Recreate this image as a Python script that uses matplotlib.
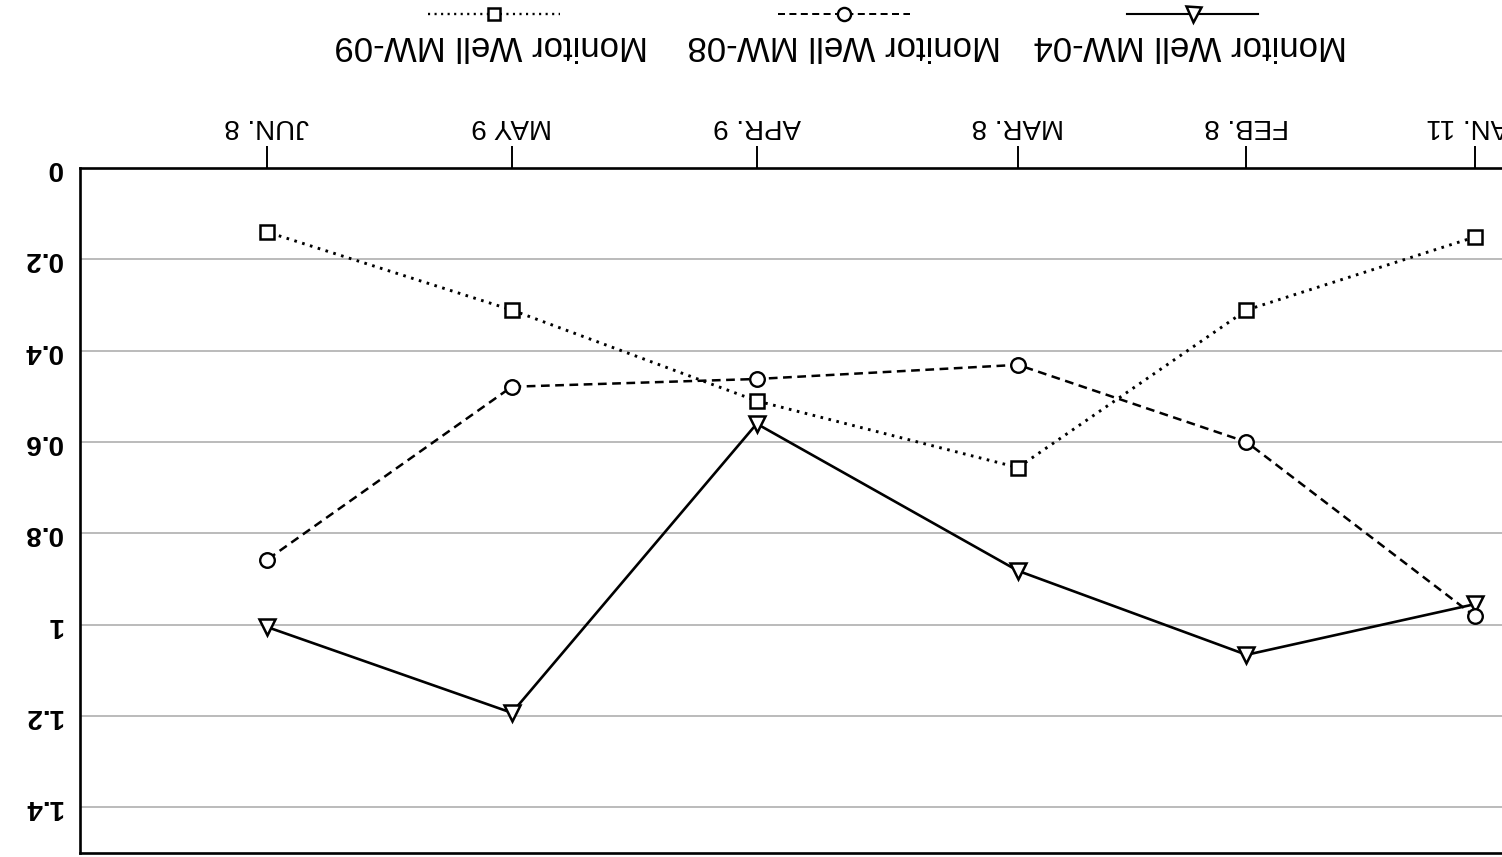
import matplotlib
matplotlib.use("Agg")
import matplotlib.pyplot as plt
import matplotlib.dates as mdates
from matplotlib.lines import Line2D
import pandas as pd

plt.rcParams['font.family'] = ['Liberation Sans', 'DejaVu Sans']

# ---- data ----
date_strings = ['2010-01-11', '2010-02-08', '2010-03-08', '2010-04-09', '2010-05-09', '2010-06-08']
date_labels = ['JAN. 11', 'FEB. 8', 'MAR. 8', 'APR. 9', 'MAY 9', 'JUN. 8']
mw04 = [0.955, 1.066, 0.882, 0.56, 1.193, 1.005]
mw08 = [0.982, 0.600, 0.431, 0.462, 0.479, 0.858]
mw09 = [0.151, 0.311, 0.656, 0.510, 0.311, 0.140]
series_names = ['Monitor Well MW-04', 'Monitor Well MW-08', 'Monitor Well MW-09']
y_ticks = [0, 0.2, 0.4, 0.6, 0.8, 1.0, 1.2, 1.4]
y_tick_labels = ['0', '0.2', '0.4', '0.6', '0.8', '1', '1.2', '1.4']

x = mdates.date2num(pd.to_datetime(date_strings).to_pydatetime())

fig = plt.figure(figsize=(15.02, 8.57), dpi=100)
ax = fig.add_axes([80 / 1502, 4 / 857, 1 - 80 / 1502, (853 - 168) / 857])

styles = [
    dict(color='black', lw=1.9, ls='-', marker='v', ms=12, mfc='white', mec='black', mew=1.8),
    dict(color='black', lw=1.8, ls=(0, (3.5, 2.2)), marker='o', ms=10.5, mfc='white', mec='black', mew=1.7),
    dict(color='black', lw=2.1, ls=(0, (0.9, 1.9)), marker='s', ms=9.5, mfc='white', mec='black', mew=1.8),
]
for vals, st in zip([mw04, mw08, mw09], styles):
    ax.plot(x, vals, zorder=3, **st)

# axes ranges (reference is rotated 180 degrees)
ax.set_ylim(1.5, 0)
ax.set_xlim(x[-1] + 22.9, x[0] - 3.3)

ax.set_yticks(y_ticks)
ax.set_yticklabels(y_tick_labels, rotation=180, fontsize=20, fontweight='bold')
ax.tick_params(axis='y', length=0, pad=13)
for t in ax.get_yticklabels():
    t.set_ha('right')
    t.set_va('center')
    t.set_y(t.get_position()[1])

ax.xaxis.tick_top()
ax.set_xticks(x)
ax.set_xticklabels(date_labels, rotation=180, fontsize=20)
ax.tick_params(axis='x', direction='out', length=16, width=1.4, pad=5)

ax.grid(axis='y', color='0.66', lw=1.1)
ax.set_axisbelow(True)
for side in ['top', 'left', 'bottom']:
    ax.spines[side].set_linewidth(1.9)
ax.spines['right'].set_visible(False)

# legend (manually, upside down)
W, H = 1502, 857
leg_text_x = [1190, 844, 491]
leg_line = [(1127, 1258), (778, 910), (428, 560)]
for name, tx, (x0, x1), st in zip(series_names, leg_text_x, leg_line, styles):
    fig.text(tx / W, 1 - 46 / H, name, rotation=180, ha='center', va='center', fontsize=25)
    xm = (x0 + x1) / 2
    lst = dict(st)
    lst['lw'] = st['lw'] * 0.8
    lst['ms'] = st['ms'] * 0.9
    ln = Line2D([x0 / W, xm / W, x1 / W], [1 - 14 / H] * 3, transform=fig.transFigure,
                markevery=[1], **lst)
    fig.add_artist(ln)

fig.savefig('out.png', dpi=100)
